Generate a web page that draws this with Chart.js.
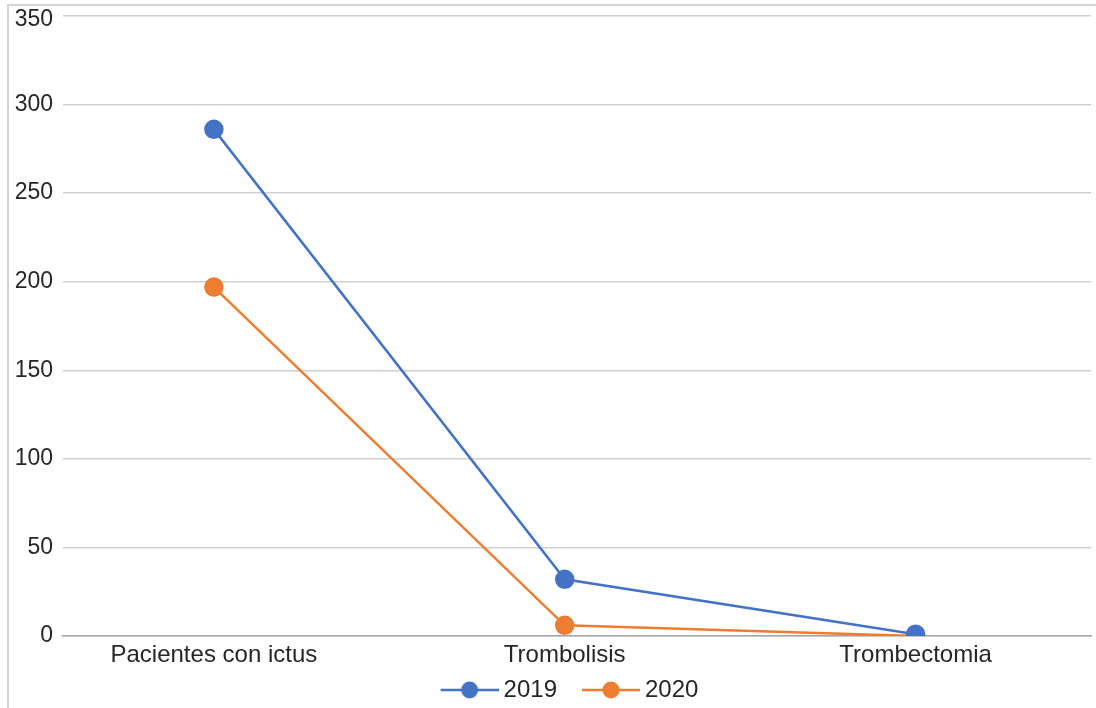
<!DOCTYPE html>
<html>
<head>
<meta charset="utf-8">
<script src="https://cdn.jsdelivr.net/npm/chart.js@4/dist/chart.umd.min.js"></script>
<style>
  html, body { margin: 0; padding: 0; background: #fff; }
  #wrap { position: relative; width: 1096px; height: 708px; overflow: hidden; }
  #frame { position: absolute; left: 7px; top: 4px; width: 1200px; height: 800px;
           border-left: 2px solid #d4d4d4; border-top: 2px solid #d4d4d4; }
  canvas { position: absolute; left: 0; top: 0; }
</style>
</head>
<body>
<div id="wrap">
  <div id="frame"></div>
  <canvas id="lineChart" width="1096" height="708"></canvas>
</div>
<script>
const categories = ["Pacientes con ictus", "Trombolisis", "Trombectomia"];
const values2019 = [286, 32, 1];
const values2020 = [197, 6, 0];
const seriesNames = ["2019", "2020"];
const seriesColors = ["#4472C4", "#ED7D31"];
const yTicks = [0, 50, 100, 150, 200, 250, 300, 350];

const FONT = "'Liberation Sans', Arial, sans-serif";
const Y_MAX = yTicks[yTicks.length - 1];

// legend marker: short line with a dot, right-aligned in the image
function legendMarker(color) {
  const c = document.createElement("canvas");
  c.width = 80;
  c.height = 20;
  const g = c.getContext("2d");
  g.strokeStyle = color;
  g.lineWidth = 2.5;
  g.beginPath();
  g.moveTo(22, 10);
  g.lineTo(80, 10);
  g.stroke();
  g.fillStyle = color;
  g.beginPath();
  g.arc(51, 10, 8.5, 0, Math.PI * 2);
  g.fill();
  return c;
}

function toPoints(values) {
  return values.map((v, i) => ({ x: i, y: v }));
}

// nudge the legend a bit to the left, like the original
const legendShift = {
  id: "legendShift",
  afterLayout(chart) {
    chart.legend.left -= 15;
    chart.legend.right -= 15;
  },
};

const ctx = document.getElementById("lineChart").getContext("2d");
new Chart(ctx, {
  type: "line",
  data: {
    datasets: [
      {
        label: seriesNames[0],
        data: toPoints(values2019),
        borderColor: seriesColors[0],
        backgroundColor: seriesColors[0],
        borderWidth: 2.5,
        pointRadius: 8.5,
        pointHoverRadius: 8.5,
        tension: 0,
      },
      {
        label: seriesNames[1],
        data: toPoints(values2020),
        borderColor: seriesColors[1],
        backgroundColor: seriesColors[1],
        borderWidth: 2.5,
        pointRadius: 8.5,
        pointHoverRadius: 8.5,
        tension: 0,
      },
    ],
  },
  plugins: [legendShift],
  options: {
    responsive: false,
    animation: false,
    layout: { autoPadding: false, padding: { top: 16, right: 5, left: 0, bottom: -4 } },
    plugins: {
      tooltip: { enabled: false },
      legend: {
        position: "bottom",
        fullSize: false,
        labels: {
          usePointStyle: true,
          pointStyleWidth: 66,
          padding: 10,
          color: "#262626",
          font: { family: FONT, size: 24 },
          generateLabels: (chart) =>
            Chart.defaults.plugins.legend.labels.generateLabels(chart).map((item, i) => {
              item.pointStyle = legendMarker(seriesColors[i]);
              return item;
            }),
        },
      },
    },
    scales: {
      x: {
        type: "linear",
        min: -0.43,
        max: 2.5,
        afterBuildTicks: (axis) => {
          axis.ticks = categories.map((_, i) => ({ value: i }));
        },
        afterFit: (axis) => {
          axis.height = 32;
          axis.paddingLeft = 0;
          axis.paddingRight = 0;
        },
        ticks: {
          autoSkip: false,
          maxRotation: 0,
          padding: 5,
          color: "#262626",
          font: { family: FONT, size: 24 },
          callback: (v) => categories[v],
        },
        grid: { display: false, drawTicks: false },
        border: { display: true, color: "#a6a6a6", width: 1.5 },
      },
      y: {
        min: 0,
        max: Y_MAX,
        afterBuildTicks: (axis) => {
          axis.ticks = yTicks.map((v) => ({ value: v }));
        },
        afterFit: (axis) => {
          axis.width = 63;
          axis.paddingTop = 0;
          axis.paddingBottom = 0;
        },
        ticks: {
          padding: 10,
          color: "#262626",
          // top label sits a little lower so it isn't cut off
          callback: (v) => (v === Y_MAX ? ["", String(v)] : String(v)),
          font: (c) => ({
            family: FONT,
            size: 23,
            lineHeight: c.tick && c.tick.value === Y_MAX ? "8px" : 1.2,
          }),
        },
        grid: { color: "#d0d0d0", lineWidth: 1.5, drawTicks: false },
        border: { display: false },
      },
    },
  },
});
</script>
</body>
</html>
